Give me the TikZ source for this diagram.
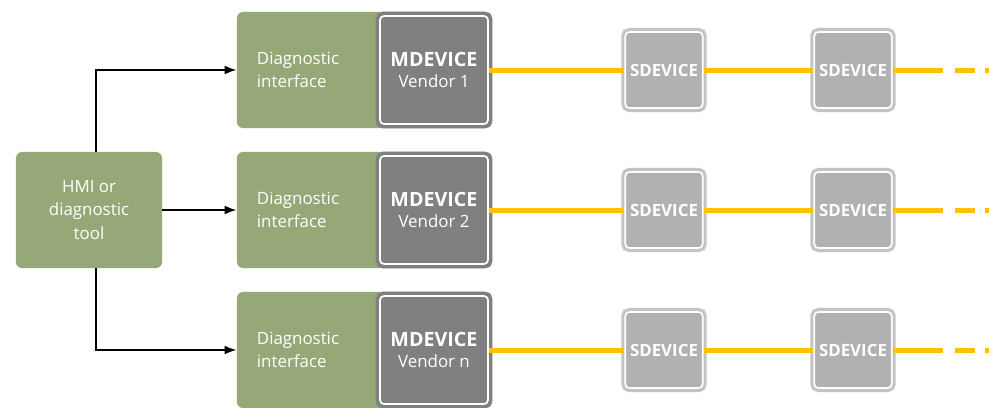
\documentclass[tikz,border=0pt]{standalone}
\usepackage{fontspec}
\setmainfont{Open Sans}
\usetikzlibrary{positioning}
\usepgflibrary{arrows.meta}

\definecolor{diaggreen}{RGB}{151,168,120}
\definecolor{mgray}{RGB}{128,128,128}
\definecolor{sgray}{RGB}{177,177,177}
\definecolor{sframe}{RGB}{196,196,196}
\definecolor{busyellow}{RGB}{255,192,0}

\tikzset{
  toolbox/.style={fill=diaggreen, rounded corners=0.15cm, minimum width=3.65cm, minimum height=2.9cm,
    text=white, align=center, font=\fontsize{12}{16.5}\selectfont},
  diagbox/.style={fill=diaggreen, rounded corners=0.15cm, minimum width=6.375cm, minimum height=2.9cm,
    inner xsep=0.5cm, text width=5.375cm, align=left, text=white, font=\fontsize{12}{16.5}\selectfont},
  mdev/.style={fill=mgray, draw=white, line width=1.2pt, rounded corners=0.1cm,
    preaction={draw=mgray, line width=0.22cm}, minimum size=2.7cm,
    text=white, align=center, font=\fontsize{12}{15.5}\selectfont},
  sdev/.style={fill=sgray, draw=white, line width=1.2pt, rounded corners=0.1cm,
    preaction={draw=sframe, line width=0.2cm}, minimum size=1.9cm,
    text=white, font=\fontsize{12}{14}\selectfont\bfseries},
  bus/.style={draw=busyellow, line width=0.125cm},
  arrow/.style={draw=black, line width=1.4pt, -{Latex[length=0.3cm,width=0.22cm]}}
}

\begin{document}
\begin{tikzpicture}[x=0.025cm,y=-0.025cm]
  \useasboundingbox (0,0) rectangle (989,408);

  \node[toolbox] (hmi) at (89,210) {HMI or\\diagnostic\\tool};

  \foreach \y/\v/\n in {70/1/1, 210/2/2, 350/n/3} {
    \node[diagbox] (diag\n) at (364.5,\y) {Diagnostic\\interface};
    \node[mdev] (mdev\n) at (434,\y) {{\fontsize{14}{15.5}\selectfont\bfseries MDEVICE}\\Vendor \v};
    \node[sdev] (sdeva\n) at (664,\y) {SDEVICE};
    \node[sdev] (sdevb\n) at (853,\y) {SDEVICE};
    \coordinate (busend\n) at (943,\y);
    \coordinate (dashstart\n) at (955,\y);
    \coordinate (dashend\n) at (995,\y);
    \draw[bus] (mdev\n.east) -- (sdeva\n.west);
    \draw[bus] (sdeva\n.east) -- (sdevb\n.west);
    \draw[bus] (sdevb\n.east) -- (busend\n);
    \draw[bus, dash pattern=on 0.5cm off 0.25cm] (dashstart\n) -- (dashend\n);
  }

  % links from the tool
  \draw[arrow] ([xshift=0.175cm]hmi.north) |- (diag1.west);
  \draw[arrow] (hmi.east) -- (diag2.west);
  \draw[arrow] ([xshift=0.175cm]hmi.south) |- (diag3.west);
\end{tikzpicture}
\end{document}
